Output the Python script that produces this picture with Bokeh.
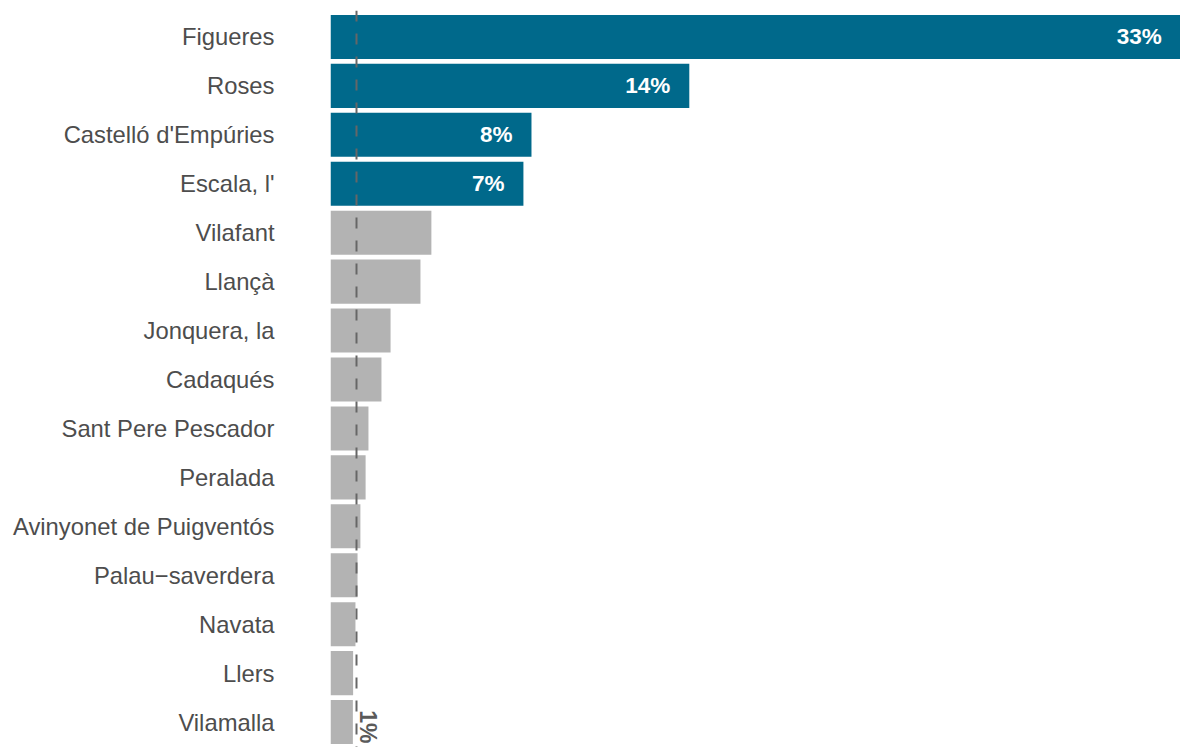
import numpy as np
from bokeh.plotting import figure
from bokeh.models import ColumnDataSource, Range1d, Span, FixedTicker
from bokeh.core.properties import value
from bokeh.embed import file_html
from bokeh.resources import INLINE

# Data
municipalities = ["Figueres", "Roses", "Castelló d'Empúries", "Escala, l'", "Vilafant",
                  "Llançà", "Jonquera, la", "Cadaqués", "Sant Pere Pescador", "Peralada",
                  "Avinyonet de Puigventós", "Palau\u2212saverdera", "Navata", "Llers", "Vilamalla"]
shares = [32.7, 13.8, 7.73, 7.42, 3.88, 3.46, 2.31, 1.96, 1.46, 1.35, 1.15, 1.04, 0.96, 0.87, 0.86]
highlight = [True, True, True, True, False, False, False, False, False, False,
             False, False, False, False, False]
reference_value = 1.0
reference_label = "1%"

TEAL = "#00698B"
GREY = "#B3B3B3"
n = len(municipalities)
ypos = [n - 1 - i for i in range(n)]

src = ColumnDataSource(dict(
    y=ypos,
    share=shares,
    color=[TEAL if h else GREY for h in highlight],
))
lab_src = ColumnDataSource(dict(
    y=[ypos[i] for i in range(n) if highlight[i]],
    share=[shares[i] for i in range(n) if highlight[i]],
    txt=["%d%%" % round(shares[i]) for i in range(n) if highlight[i]],
))

p = figure(width=1180, height=747, output_backend="svg", toolbar_location=None,
           x_range=Range1d(0, 850 / 26.0), y_range=Range1d(-0.52, n - 1 + 0.54),
           min_border_left=330, min_border_right=0, min_border_top=10, min_border_bottom=0)
p.outline_line_color = None
p.xgrid.visible = False
p.ygrid.visible = False
p.xaxis.visible = False
p.background_fill_color = "white"
p.border_fill_color = "white"

p.hbar(y="y", left=0, right="share", height=0.9, fill_color="color", line_color=None, source=src)

p.text(x="share", y="y", text="txt", source=lab_src, x_offset=-19,
       text_align="right", text_baseline="middle", text_color="white",
       text_font=value("Liberation Sans"), text_font_style="bold", text_font_size="22.5px")

p.add_layout(Span(location=reference_value, dimension="height", line_color="#666666",
                  line_width=2, line_dash="11 12"))

p.text(x=[reference_value], y=[-0.52], text=[reference_label], angle=-np.pi / 2,
       x_offset=-2, y_offset=-4, text_align="right", text_baseline="bottom",
       text_color="#5A5A5A", text_font=value("Liberation Sans"), text_font_style="bold",
       text_font_size="23px")

yax = p.yaxis[0]
yax.ticker = FixedTicker(ticks=ypos)
yax.major_label_overrides = {ypos[i]: municipalities[i] for i in range(n)}
yax.axis_line_color = None
yax.major_tick_line_color = None
yax.minor_tick_line_color = None
yax.major_tick_out = 0
yax.major_tick_in = 0
yax.major_label_standoff = 56
yax.major_label_text_font = "Liberation Sans"
yax.major_label_text_font_size = "23.8px"
yax.major_label_text_color = "#4D4D4D"

open("out.html", "w").write(file_html(p, INLINE))
